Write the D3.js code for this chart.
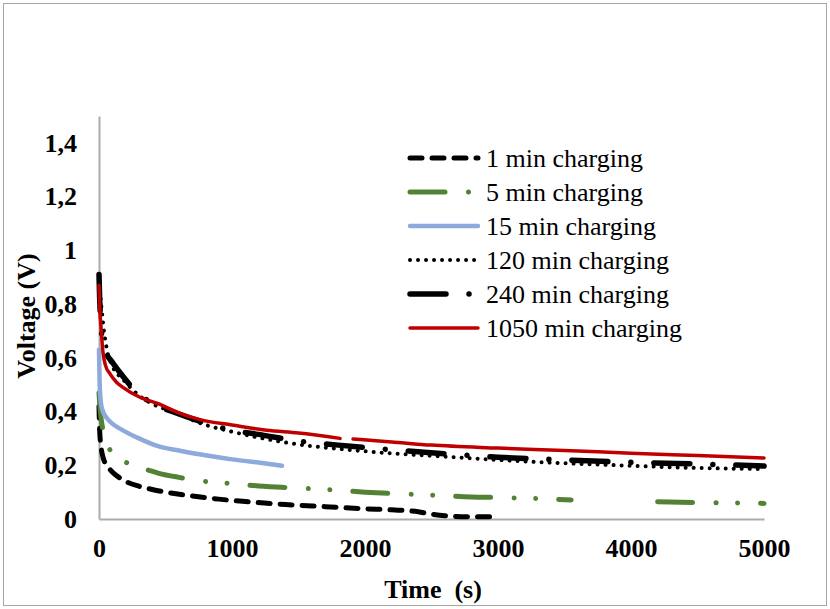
<!DOCTYPE html>
<html>
<head>
<meta charset="utf-8">
<script src="https://cdn.jsdelivr.net/npm/d3@7"></script>
<style>
  html, body { margin: 0; padding: 0; background: #fff; }
  svg { display: block; }
  text { font-family: "Liberation Serif", "Times New Roman", serif; }
</style>
</head>
<body>
<svg id="chart" width="830" height="609"></svg>
<script>
// ---- data ----
const xTicks = [0, 1000, 2000, 3000, 4000, 5000];
const yTicks = [0, 0.2, 0.4, 0.6, 0.8, 1.0, 1.2, 1.4];
const seriesNames = ["1 min charging", "5 min charging", "15 min charging", "120 min charging", "240 min charging", "1050 min charging"];

const t1   = [0, 5, 15, 30, 60, 100, 150, 200, 300, 400, 500, 700, 900, 1100, 1400, 1700, 2000, 2200, 2400, 2500, 2600, 2800, 3000];
const v1   = [0.42, 0.33, 0.27, 0.23, 0.20, 0.175, 0.155, 0.14, 0.122, 0.11, 0.10, 0.086, 0.074, 0.065, 0.054, 0.046, 0.038, 0.034, 0.027, 0.018, 0.012, 0.008, 0.008];

const t5   = [0, 10, 30, 60, 100, 170, 250, 350, 450, 600, 800, 1000, 1200, 1500, 1700, 2000, 2300, 2500, 2800, 3000, 3300, 3550, 3900, 4200, 4500, 4800, 5000];
const v5   = [0.47, 0.40, 0.33, 0.28, 0.245, 0.22, 0.20, 0.185, 0.17, 0.155, 0.14, 0.132, 0.123, 0.115, 0.11, 0.10, 0.093, 0.089, 0.082, 0.08, 0.076, 0.071, null, 0.064, 0.061, 0.06, 0.058];

const t15  = [0, 5, 15, 30, 60, 100, 180, 300, 450, 600, 800, 1000, 1200, 1376];
const v15  = [0.63, 0.50, 0.43, 0.40, 0.375, 0.355, 0.33, 0.30, 0.27, 0.255, 0.237, 0.222, 0.21, 0.198];

const t120 = [0, 20, 40, 60, 100, 180, 300, 440, 560, 760, 1000, 1400, 2000, 2600, 3300, 3900, 4500, 5000];
const v120 = [0.88, 0.78, 0.69, 0.63, 0.57, 0.52, 0.46, 0.42, 0.40, 0.357, 0.325, 0.285, 0.252, 0.232, 0.212, 0.20, 0.19, 0.186];

const t240 = [0, 5, 15, 30, 60, 90, 150, 250, 400, 550, 750, 1000, 1200, 1500, 1800, 2200, 2600, 3000, 3500, 4000, 4500, 5000];
const v240 = [0.91, 0.82, 0.72, 0.65, 0.61, 0.59, 0.55, 0.49, 0.43, 0.40, 0.365, 0.33, 0.315, 0.29, 0.275, 0.258, 0.243, 0.23, 0.22, 0.211, 0.205, 0.197];

const t1050 = [0, 5, 15, 30, 50, 83, 130, 180, 300, 440, 600, 760, 1000, 1260, 1500, 1812, 1860, 1910, 2200, 2500, 3000, 3500, 4000, 4500, 5000];
const v1050 = [0.87, 0.79, 0.715, 0.62, 0.57, 0.54, 0.51, 0.49, 0.455, 0.43, 0.395, 0.37, 0.35, 0.33, 0.32, 0.30, null, 0.298, 0.287, 0.275, 0.264, 0.255, 0.245, 0.236, 0.227];

// ---- styles ----
const styles = [
  { color: "#000000", width: 5,   dash: "12,10" },
  { color: "#548235", width: 5,   dash: "35,23.5,0.01,21.5,0.01,23" },
  { color: "#8EA9DB", width: 4.5, dash: null },
  { color: "#000000", width: 4,   dash: "0.01,8" },
  { color: "#000000", width: 5.5, dash: "36,23,0.01,23" },
  { color: "#C00000", width: 3.5, dash: null }
];

const series = [[t1, v1], [t5, v5], [t15, v15], [t120, v120], [t240, v240], [t1050, v1050]]
  .map(([ts, vs], i) => ({ name: seriesNames[i], style: styles[i], pts: ts.map((t, j) => ({ t, v: vs[j] })) }));

// ---- layout ----
const svg = d3.select("#chart");
svg.append("rect").attr("x", 0).attr("y", 0).attr("width", 830).attr("height", 609).attr("fill", "#fff");
svg.append("rect").attr("x", 3.5).attr("y", 3.5).attr("width", 823).attr("height", 602)
  .attr("fill", "none").attr("stroke", "#A6A6A6").attr("stroke-width", 1);

const x = d3.scaleLinear().domain([0, 5000]).range([99, 764]);
const y = d3.scaleLinear().domain([0, 1.5]).range([519, 116]);

const fmtY = d => (+d.toFixed(1)).toString().replace(".", ",");

const yAxis = svg.append("g").attr("transform", "translate(99,0)")
  .call(d3.axisLeft(y).tickValues(yTicks).tickSize(0).tickPadding(22).tickFormat(fmtY));
const xAxis = svg.append("g").attr("transform", "translate(0,519)")
  .call(d3.axisBottom(x).tickValues(xTicks).tickSize(0).tickPadding(20).tickFormat(d3.format("d")));

[xAxis, yAxis].forEach(g => {
  g.select(".domain").attr("stroke", "#ABABAB").attr("stroke-width", 2);
  g.selectAll("text").attr("font-family", "Liberation Serif, Times New Roman, serif")
    .attr("font-size", 26).attr("font-weight", "bold").attr("fill", "#000");
});

// ---- lines ----
const line = d3.line().defined(d => d.v !== null).x(d => x(d.t)).y(d => y(d.v)).curve(d3.curveMonotoneX);

const plot = svg.append("g");
series.forEach(s => {
  plot.append("path").datum(s.pts)
    .attr("d", line)
    .attr("fill", "none")
    .attr("stroke", s.style.color)
    .attr("stroke-width", s.style.width)
    .attr("stroke-linecap", "round")
    .attr("stroke-linejoin", "round")
    .attr("stroke-dasharray", s.style.dash);
});

// ---- legend ----
const legendRows = [158, 192, 226, 260, 294, 328];
const legend = svg.append("g");
series.forEach((s, i) => {
  const ly = legendRows[i];
  legend.append("line").attr("x1", 410).attr("x2", 478).attr("y1", ly).attr("y2", ly)
    .attr("stroke", s.style.color).attr("stroke-width", s.style.width)
    .attr("stroke-linecap", "round").attr("stroke-dasharray", s.style.dash);
  legend.append("text").attr("x", 486).attr("y", ly).attr("dy", "0.33em")
    .attr("font-size", 26).attr("fill", "#000").text(s.name);
});

// ---- axis titles ----
svg.append("text").attr("x", 433).attr("y", 598).attr("text-anchor", "middle")
  .attr("font-size", 26).attr("font-weight", "bold").style("white-space", "pre").text("Time  (s)");
svg.append("text").attr("transform", "translate(35,316) rotate(-90)").attr("text-anchor", "middle")
  .attr("font-size", 26).attr("font-weight", "bold").text("Voltage (V)");
</script>
</body>
</html>
